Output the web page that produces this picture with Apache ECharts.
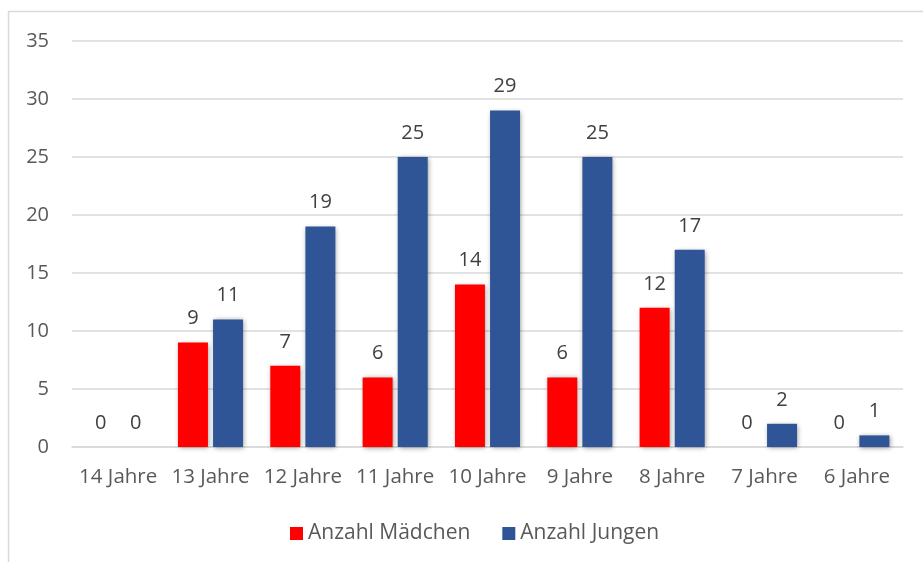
<!DOCTYPE html>
<html><head><meta charset="utf-8">
<script src="https://cdn.jsdelivr.net/npm/echarts@6/dist/echarts.min.js"></script>
<style>html,body{margin:0;padding:0;background:#fff}#c{width:923px;height:562px}</style>
</head><body><div id="c"></div>
<script>
const categories = ['14 Jahre','13 Jahre','12 Jahre','11 Jahre','10 Jahre','9 Jahre','8 Jahre','7 Jahre','6 Jahre'];
const maedchen = [0,9,7,6,14,6,12,0,0];
const jungen = [0,11,19,25,29,25,17,2,1];
const yTicks = {min:0, max:35, interval:5};

const chart = echarts.init(document.getElementById('c'), null, {renderer:'canvas'});
const font = 'Open Sans, Noto Sans, sans-serif';
const shadow = {shadowBlur:5, shadowColor:'rgba(0,0,0,0.4)', shadowOffsetX:1, shadowOffsetY:1};
chart.setOption({
  animation:false,
  graphic:[{type:'rect', shape:{x:8.5,y:11.5,width:930,height:600}, style:{fill:'none', stroke:'#d9d9d9', lineWidth:1.5}, z:-1}],
  grid:{left:72, right:20, top:41, bottom:115},
  legend:{top:518, left:285, itemWidth:13, itemHeight:13, itemGap:32, icon:'rect',
    textStyle:{fontFamily:font, fontSize:21, color:'#595959'}},
  xAxis:{type:'category', data:categories,
    axisLine:{lineStyle:{color:'#d9d9d9', width:1.5}}, axisTick:{show:false},
    axisLabel:{interval:0, hideOverlap:false, fontFamily:font, fontSize:20.5, color:'#595959', margin:20}},
  yAxis:{type:'value', min:yTicks.min, max:yTicks.max, interval:yTicks.interval,
    axisLine:{show:false}, axisTick:{show:false},
    splitLine:{lineStyle:{color:'#d9d9d9', width:1.5}},
    axisLabel:{fontFamily:font, fontSize:20, color:'#595959', margin:23}},
  series:[
    {name:'Anzahl Mädchen', type:'bar', data:maedchen, barWidth:30, barGap:'17%',
     itemStyle:Object.assign({color:'#ff0000'}, shadow),
     label:{show:true, position:'top', distance:14, fontFamily:font, fontSize:20, color:'#404040'}},
    {name:'Anzahl Jungen', type:'bar', data:jungen, barWidth:30,
     itemStyle:Object.assign({color:'#2f5597'}, shadow),
     label:{show:true, position:'top', distance:14, fontFamily:font, fontSize:20, color:'#404040'}}
  ]
});
</script></body></html>
